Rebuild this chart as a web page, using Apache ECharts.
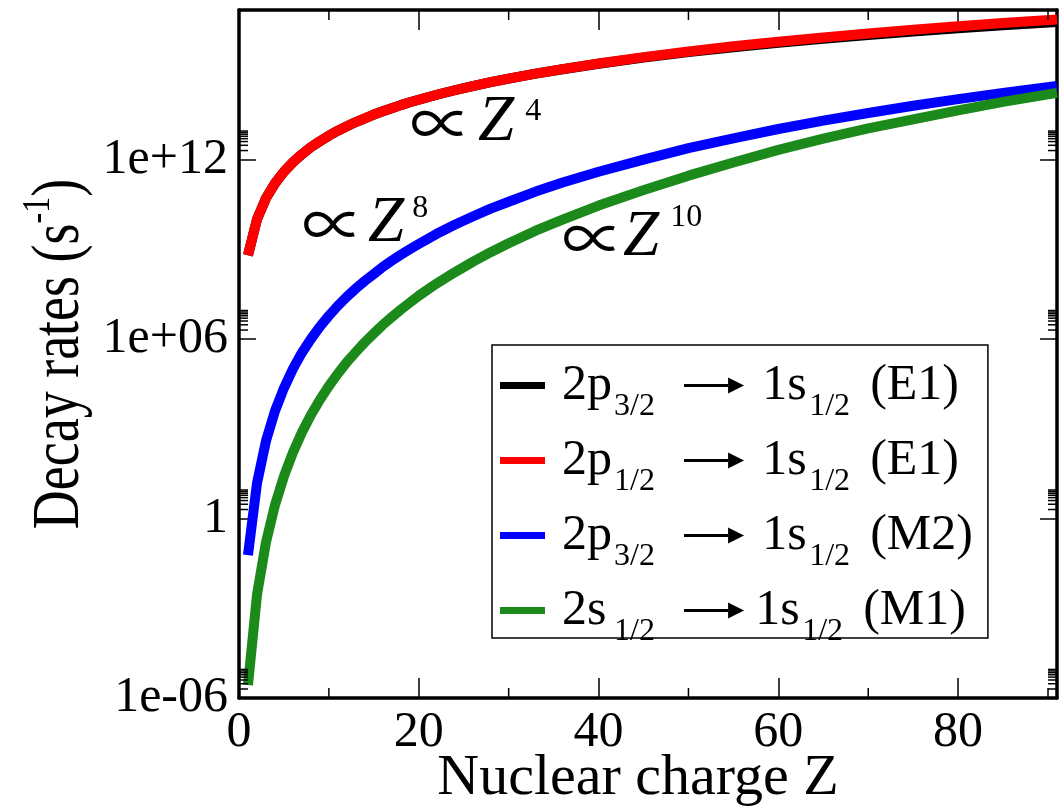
<!DOCTYPE html>
<html>
<head>
<meta charset="utf-8">
<script src="https://cdn.jsdelivr.net/npm/echarts@6/dist/echarts.min.js"></script>
<style>
  html, body { margin: 0; padding: 0; background: #fff; }
  #main { width: 1059px; height: 808px; }
</style>
</head>
<body>
<div id="main"></div>
<script>
// ---- data ----
const Z = [1, 2, 3, 4, 5, 6, 7, 8, 9, 10, 11, 12, 13, 14, 15, 16, 17, 18, 19, 20,
  22, 24, 26, 28, 30, 33, 36, 40, 45, 50, 55, 60, 65, 70, 75, 80, 85, 91];

const rate2p32E1 = [6.3e8, 1.0e10, 5.1e10, 1.6e11, 3.9e11, 8.1e11, 1.5e12, 2.6e12, 4.1e12, 6.3e12,
  9.2e12, 1.3e13, 1.8e13, 2.4e13, 3.2e13, 4.1e13, 5.2e13, 6.6e13, 8.2e13, 1.0e14,
  1.47e14, 2.08e14, 2.87e14, 3.86e14, 5.1e14, 7.45e14, 1.05e15, 1.6e15, 2.55e15, 3.9e15,
  5.7e15, 8.0e15, 1.1e16, 1.45e16, 1.9e16, 2.45e16, 3.1e16, 3.95e16];

const rate2p12E1 = [6.3e8, 1.0e10, 5.1e10, 1.6e11, 3.9e11, 8.1e11, 1.5e12, 2.6e12, 4.1e12, 6.3e12,
  9.2e12, 1.3e13, 1.8e13, 2.4e13, 3.2e13, 4.1e13, 5.2e13, 6.6e13, 8.2e13, 1.0e14,
  1.47e14, 2.08e14, 2.87e14, 3.86e14, 5.1e14, 7.5e14, 1.06e15, 1.63e15, 2.65e15, 4.1e15,
  6.1e15, 8.7e15, 1.21e16, 1.65e16, 2.2e16, 2.85e16, 3.7e16, 4.8e16];

const rate2p32M2 = [0.06, 15, 390, 3.9e3, 2.3e4, 1.0e5, 3.5e5, 1.0e6, 2.6e6, 6.0e6,
  1.3e7, 2.6e7, 4.9e7, 8.8e7, 1.5e8, 2.6e8, 4.2e8, 6.6e8, 1.0e9, 1.5e9,
  3.3e9, 6.6e9, 1.25e10, 2.3e10, 3.9e10, 8.5e10, 1.7e11, 3.9e11, 1.0e12, 2.4e12,
  5.1e12, 1.05e13, 2.0e13, 3.6e13, 6.3e13, 1.05e14, 1.7e14, 2.9e14];

const rate2s12M1 = [2.7e-6, 2.8e-3, 0.16, 2.8, 26, 160, 760, 2.9e3, 9.4e3, 2.7e4,
  7.0e4, 1.7e5, 3.7e5, 7.8e5, 1.55e6, 3.0e6, 5.4e6, 9.6e6, 1.65e7, 2.8e7,
  7.2e7, 1.7e8, 3.8e8, 8.0e8, 1.6e9, 4.2e9, 9.9e9, 2.9e10, 9.5e10, 2.9e11,
  8.0e11, 2.1e12, 5.0e12, 1.1e13, 2.2e13, 4.4e13, 8.5e13, 1.7e14];

const seriesNames = ['p32E1', 'p12E1', 'p32M2', 's12M1'];
const seriesColors = ['#000000', '#ff0000', '#0000ff', '#1b8a1b'];

const xTickLabels = ['0', '20', '40', '60', '80'];
const yTickLabels = { '-6': '1e-06', '0': '1', '6': '1e+06', '12': '1e+12' };
const xMinorTicks = [10, 30, 50, 70, 90];
const yMajorExps = [-6, 0, 6, 12];
const yMinorMults = [2, 3, 4, 5, 6, 7, 8, 9];

// ---- build ----
const SERIF = 'Liberation Serif';
function pairs(ys) { return Z.map((z, i) => [z, ys[i]]); }

const tickData = [];
xMinorTicks.forEach(v => tickData.push([v, 1, 0]));
yMajorExps.forEach(e => yMinorMults.forEach(m => tickData.push([0, m * Math.pow(10, e), 1])));

const legendText = {
  p32E1: '{lead| }{m1|2p}{s1|3/2}{sh| }{hd|\u25B6}{sp| }{m2|1s}{s2|1/2}{m|(E1)}',
  p12E1: '{lead| }{m1|2p}{s1|1/2}{sh| }{hd|\u25B6}{sp| }{m2|1s}{s2|1/2}{m|(E1)}',
  p32M2: '{lead| }{m1|2p}{s1|3/2}{sh| }{hd|\u25B6}{sp| }{m2|1s}{s2|1/2}{m|(M2)}',
  s12M1: '{lead| }{m1|2s}{s1|1/2}{sh| }{hd|\u25B6}{sp4| }{m2|1s}{s2|1/2}{m|(M1)}'
};

const axisLineStyle = { color: '#000', width: 3.5 };
const tickStyle = { color: '#000', width: 1.5 };

const chart = echarts.init(document.getElementById('main'), null, { renderer: 'canvas' });

const lineSeries = seriesNames.map((n, i) => ({
  name: n,
  type: 'line',
  data: pairs([rate2p32E1, rate2p12E1, rate2p32M2, rate2s12M1][i]),
  showSymbol: false,
  symbol: 'none',
  smooth: false,
  lineStyle: { color: seriesColors[i], width: 10, join: 'round', cap: 'butt' },
  itemStyle: { color: seriesColors[i] },
  z: 2 + i,
  animation: false
}));

function annot(x, y, sup, pWidth, supPad) {
  return {
    type: 'text', x: x, y: y,
    style: {
      text: '{p|\u221D}{z|Z}{sup|' + sup + '}', align: 'left', verticalAlign: 'middle',
      rich: {
        p: { fontSize: 62, fontFamily: 'Noto Sans CJK JP', width: pWidth, lineHeight: 60, fill: '#000' },
        z: { fontSize: 65, fontFamily: SERIF, fontStyle: 'italic', lineHeight: 60, fill: '#000' },
        sup: { fontSize: 32, fontFamily: SERIF, lineHeight: 26, padding: supPad, fill: '#000' }
      }
    }
  };
}

const option = {
  animation: false,
  backgroundColor: '#fff',
  grid: { left: 239, right: 2, top: 10, bottom: 110, containLabel: false, outerBoundsMode: 'none' },
  xAxis: [
    {
      type: 'value', min: 0, max: 91, interval: 20, position: 'bottom',
      axisLine: { show: true, onZero: false, lineStyle: axisLineStyle },
      axisTick: { show: true, inside: true, length: 20, lineStyle: tickStyle },
      axisLabel: {
        fontSize: 50, fontFamily: SERIF, color: '#000', margin: 10,
        formatter: v => (xTickLabels.indexOf(String(v)) >= 0 ? String(v) : '')
      },
      splitLine: { show: false },
      name: 'Nuclear charge Z', nameLocation: 'middle', nameGap: 52, nameMoveOverlap: false,
      nameTextStyle: { fontSize: 58, fontFamily: SERIF, color: '#000', lineHeight: 58, padding: [0, 20, 0, 0] }
    },
    {
      type: 'value', min: 0, max: 91, interval: 20, position: 'top',
      axisLine: { show: true, onZero: false, lineStyle: axisLineStyle },
      axisTick: { show: true, inside: true, length: 20, lineStyle: tickStyle },
      axisLabel: { show: false }, splitLine: { show: false }
    }
  ],
  yAxis: [
    {
      type: 'log', logBase: 10, min: 1e-6, max: 1e17, interval: 6, position: 'left',
      axisLine: { show: true, onZero: false, lineStyle: axisLineStyle },
      axisTick: { show: true, inside: true, length: 17, lineStyle: tickStyle },
      axisLabel: {
        fontSize: 50, fontFamily: SERIF, color: '#000', margin: 11,
        formatter: v => { const e = Math.round(Math.log10(v)); return yTickLabels[String(e)] || ''; }
      },
      splitLine: { show: false }
    },
    {
      type: 'log', logBase: 10, min: 1e-6, max: 1e17, interval: 6, position: 'right',
      axisLine: { show: true, onZero: false, lineStyle: axisLineStyle },
      axisTick: { show: true, inside: true, length: 17, lineStyle: tickStyle },
      axisLabel: { show: false }, splitLine: { show: false }
    }
  ],
  legend: {
    show: true, orient: 'vertical', left: 492, top: 345,
    data: seriesNames, icon: 'rect', itemWidth: 45, itemHeight: 7, itemGap: 0,
    padding: [3, 15, -10, 8],
    backgroundColor: '#fff', borderColor: '#000', borderWidth: 1.5, borderRadius: 0,
    selectedMode: false,
    formatter: name => legendText[name],
    textStyle: {
      color: '#000', fontFamily: SERIF, fontSize: 50, lineHeight: 10,
      rich: {
        lead: { width: 12, lineHeight: 10, fontSize: 10 },
        m1: { fontSize: 50, fontFamily: SERIF, lineHeight: 65, width: 52, color: '#000' },
        m2: { fontSize: 50, fontFamily: SERIF, lineHeight: 65, width: 47, color: '#000' },
        m: { fontSize: 50, fontFamily: SERIF, lineHeight: 65, color: '#000' },
        s1: { fontSize: 32, fontFamily: SERIF, lineHeight: 22, width: 70, padding: [43, 0, 0, 0], color: '#000' },
        s2: { fontSize: 32, fontFamily: SERIF, lineHeight: 22, width: 61, padding: [43, 0, 0, 0], color: '#000' },
        sh: { width: 44, height: 3, lineHeight: 3, fontSize: 3, backgroundColor: '#000' },
        hd: { fontSize: 21, fontFamily: 'DejaVu Sans', color: '#000', lineHeight: 20 },
        sp: { width: 18, lineHeight: 10, fontSize: 10 },
        sp4: { width: 11, lineHeight: 10, fontSize: 10 }
      }
    }
  },
  graphic: [
    {
      type: 'text', x: 60, y: 354, rotation: Math.PI / 2, scaleY: 1.25,
      style: {
        text: 'Decay rates (s{sup|-1})', fontSize: 54, fontFamily: SERIF, fill: '#000',
        align: 'center', verticalAlign: 'middle',
        rich: { sup: { fontSize: 32, fontFamily: SERIF, padding: [0, 0, 34, 0] } }
      }
    },
    annot(410, 123, '4', 68, [0, 0, 23, 11]),
    annot(302, 224, '8', 66, [0, 0, 31, 8]),
    annot(562, 238, '10', 61, [0, 0, 41, 11])
  ],
  series: lineSeries.concat([{
    name: 'minorTicks',
    type: 'custom',
    silent: true,
    z: 10,
    clip: false,
    data: tickData,
    renderItem: function (params, api) {
      const cs = params.coordSys;
      const st = { stroke: '#000', lineWidth: 1.5 };
      if (api.value(2) === 0) {
        const x = api.coord([api.value(0), 1])[0];
        const b = cs.y + cs.height, t = cs.y;
        return { type: 'group', children: [
          { type: 'line', shape: { x1: x, y1: b, x2: x, y2: b - 10 }, style: st },
          { type: 'line', shape: { x1: x, y1: t, x2: x, y2: t + 10 }, style: st }
        ] };
      }
      const y = api.coord([0, api.value(1)])[1];
      const l = cs.x, r = cs.x + cs.width;
      return { type: 'group', children: [
        { type: 'line', shape: { x1: l, y1: y, x2: l + 9, y2: y }, style: st },
        { type: 'line', shape: { x1: r, y1: y, x2: r - 9, y2: y }, style: st }
      ] };
    }
  }])
};

chart.setOption(option);
</script>
</body>
</html>
